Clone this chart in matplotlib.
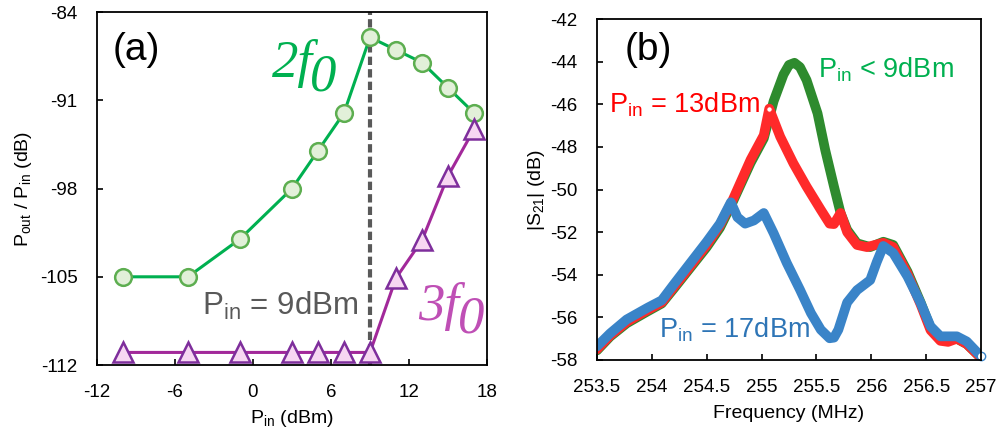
import matplotlib
matplotlib.use("Agg")
import matplotlib.pyplot as plt

plt.rcParams['font.family'] = ['Liberation Sans', 'DejaVu Sans']
plt.rcParams['mathtext.fontset'] = 'custom'
plt.rcParams['mathtext.rm'] = 'Liberation Sans'
plt.rcParams['mathtext.it'] = 'Liberation Sans:italic'
plt.rcParams['axes.unicode_minus'] = False

# panel (a): harmonic power vs input power
pin = [-10, -5, -1, 3, 5, 7, 9, 11, 13, 15, 17]
h2 = [-105, -105, -102, -98, -95, -92, -86, -87, -88, -90, -92]
h3 = [-111, -111, -111, -111, -111, -111, -111, -105.1, -102.1, -97, -93.3]
pin_knee = 9

# panel (b): |S21| traces
f_low = [253.5, 253.62, 253.77, 253.96, 254.09, 254.2, 254.32, 254.5, 254.62, 254.74,
         254.9, 255.02, 255.11, 255.2, 255.25, 255.3, 255.35, 255.41, 255.51, 255.58,
         255.66, 255.72, 255.78, 255.87, 255.99, 256.11, 256.2, 256.33, 256.45, 256.54,
         256.63, 256.78, 256.87, 257.0]
s_low = [-57.55, -56.9, -56.28, -55.72, -55.35, -54.65, -53.87, -52.7, -51.8, -50.55,
         -48.75, -47.6, -45.85, -44.6, -44.15, -44.05, -44.25, -44.86, -46.42, -48.14,
         -49.86, -51.1, -51.89, -52.52, -52.7, -52.45, -52.6, -53.85, -55.3, -56.5,
         -57.05, -57.0, -57.25, -57.9]

f_13 = [253.5, 253.62, 253.77, 253.96, 254.09, 254.2, 254.32, 254.5, 254.62, 254.74,
        254.9, 255.02, 255.07, 255.17, 255.29, 255.41, 255.54, 255.62, 255.66, 255.72,
        255.78, 255.87, 255.96, 256.11, 256.2, 256.33, 256.45, 256.54, 256.63, 256.7,
        256.78, 256.87, 257.0]
s_13 = [-57.5, -56.85, -56.22, -55.66, -55.3, -54.58, -53.8, -52.6, -51.68, -50.45,
        -48.6, -47.45, -46.2, -47.52, -48.77, -49.86, -50.95, -51.6, -51.62, -51.1,
        -52.0, -52.6, -52.7, -52.5, -52.7, -53.95, -55.4, -56.6, -57.1, -57.15,
        -57.0, -57.25, -57.9]

f_17 = [253.5, 253.62, 253.77, 253.96, 254.09, 254.2, 254.32, 254.5, 254.62, 254.72,
        254.78, 254.85, 254.93, 255.02, 255.11, 255.23, 255.35, 255.45, 255.54, 255.62,
        255.66, 255.7, 255.78, 255.87, 255.99, 256.05, 256.11, 256.2, 256.33, 256.45,
        256.54, 256.63, 256.78, 256.87, 257.0]
s_17 = [-57.36, -56.75, -56.1, -55.55, -55.2, -54.45, -53.65, -52.45, -51.6, -50.6,
        -51.3, -51.6, -51.45, -51.1, -52.05, -53.45, -54.7, -55.8, -56.58, -56.98,
        -56.95, -56.58, -55.3, -54.72, -54.25, -53.4, -52.65, -52.98, -54.08, -55.33,
        -56.42, -56.89, -56.89, -57.13, -57.83]

GREEN = '#00B050'
PURPLE = '#A2299A'

fig = plt.figure(figsize=(10, 4.32), dpi=100)
ax1 = fig.add_axes([0.097, 0.155, 0.39, 0.817])
ax2 = fig.add_axes([0.597, 0.1667, 0.384, 0.789])

# ---- (a)
ax1.plot(pin, h2, '-', color=GREEN, lw=2.2, zorder=2)
ax1.plot(pin, h3, '-', color=PURPLE, lw=2.2, zorder=2)
ax1.axvline(pin_knee, color='#595959', lw=3, ls=(0, (2, 1)), zorder=2.5)
ax1.plot(pin, h2, 'o', ms=12, mfc='#E2F0D9', mec='#5DAE50', mew=1.8, zorder=3, clip_on=False)
ax1.plot(pin, h3, '^', ms=15, mfc='#F7D7F2', mec='#7E2E9C', mew=1.8, zorder=3, clip_on=False)

ax1.set_xlim(-12, 18)
ax1.set_ylim(-112, -84)
ax1.set_xticks(range(-12, 19, 6))
ax1.set_yticks(range(-112, -83, 7))
ax1.set_xlabel(r'P$_{\mathregular{in}}$ (dBm)', fontsize=14, labelpad=5)
ax1.set_ylabel(r'P$_{\mathregular{out}}$ / P$_{\mathregular{in}}$ (dB)', fontsize=14, labelpad=4)

ax1.text(0.041, 0.892, '(a)', transform=ax1.transAxes, fontsize=28, va='center', ha='left')
serif = dict(family='Liberation Serif', style='italic', fontsize=38)
ax1.text(0.449, 0.816, '2f', transform=ax1.transAxes, color=GREEN, va='baseline', **serif)
ax1.text(0.545, 0.779, '0', transform=ax1.transAxes, color=GREEN, va='baseline', **serif)
ax1.text(0.823, 0.127, '3f', transform=ax1.transAxes, color='#BF4FB5', va='baseline', **serif)
ax1.text(0.925, 0.091, '0', transform=ax1.transAxes, color='#BF4FB5', va='baseline', **serif)
ax1.text(0.269, 0.142, r'P$_{\mathregular{in}}$ = 9dBm', transform=ax1.transAxes,
         color='#595959', fontsize=22.5, va='baseline')

# ---- (b)
ax2.plot(f_low, s_low, '-', color='#2E8B2E', lw=7, solid_capstyle='round', solid_joinstyle='round')
ax2.plot(f_13, s_13, '-', color='#FF2A2A', lw=7, solid_capstyle='round', solid_joinstyle='round')
ax2.plot(f_17, s_17, '-', color='#3A84C8', lw=7, solid_capstyle='round', solid_joinstyle='round')
ax2.plot(f_17[-1], s_17[-1], 'o', ms=6, mfc='white', mec='#3A84C8', mew=1, clip_on=False)
ax2.plot(f_13[12], s_13[12], 'o', ms=4, mfc='white', mec='#FF2A2A', mew=0.8)

ax2.set_xlim(253.5, 257)
ax2.set_ylim(-58, -42)
xt = [253.5 + 0.5 * i for i in range(8)]
ax2.set_xticks(xt)
ax2.set_xticklabels(['%g' % v for v in xt])
ax2.set_yticks(range(-58, -41, 2))
ax2.set_xlabel('Frequency (MHz)', fontsize=14, labelpad=6)
ax2.set_ylabel(r'|S$_{\mathregular{21}}$| (dB)', fontsize=14, labelpad=2)

ax2.text(0.073, 0.909, '(b)', transform=ax2.transAxes, fontsize=28, va='center', ha='left')
ax2.text(0.576, 0.830, r'P$_{\mathregular{in}}$ < 9dBm', transform=ax2.transAxes,
         color=GREEN, fontsize=19.5, va='baseline')
ax2.text(0.031, 0.727, r'P$_{\mathregular{in}}$ = 13dBm', transform=ax2.transAxes,
         color='#FF0000', fontsize=19.5, va='baseline')
ax2.text(0.161, 0.067, r'P$_{\mathregular{in}}$ = 17dBm', transform=ax2.transAxes,
         color='#2E75B6', fontsize=19.5, va='baseline')

for ax in (ax1, ax2):
    ax.tick_params(direction='in', length=4, width=1.2, labelsize=13.5, top=False, right=False)
    ax.tick_params(axis='y', pad=14)
    ax.tick_params(axis='x', pad=14)
    for sp in ax.spines.values():
        sp.set_linewidth(1.3)

fig.savefig('out.png', dpi=100)
